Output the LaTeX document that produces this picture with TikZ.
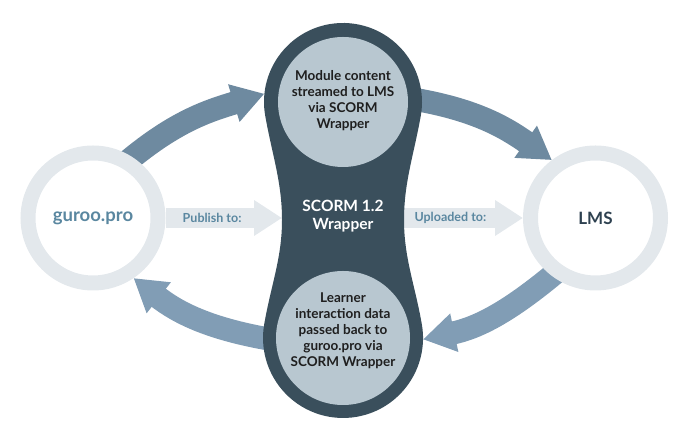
\documentclass[tikz,border=0pt]{standalone}
\usepackage{fontspec}
\setmainfont{Lato}
\usetikzlibrary{arrows.meta,backgrounds}
\definecolor{wrapdark}{HTML}{3A4F5C}
\definecolor{lobefill}{HTML}{B8C7D0}
\definecolor{ringgray}{HTML}{E3E8EC}
\definecolor{flowtop}{HTML}{6E8AA0}
\definecolor{flowbot}{HTML}{819DB5}
\definecolor{gurootext}{HTML}{5A87A0}
\definecolor{lmstext}{HTML}{2E4150}

\begin{document}
\begin{tikzpicture}[x=1pt, y=1pt,
        ring/.style={circle, draw=ringgray, line width=15pt, outer sep=7.5pt, minimum size=130pt, font=\fontsize{17}{19}\selectfont\bfseries},
        lobe/.style={circle, fill=lobefill, inner sep=0pt},
        lobetext/.style={align=center, font=\fontsize{13.5}{16}\selectfont\bfseries, text=black!88},
        flow/.style={line width=23pt, -{Triangle[length=32pt, width=37pt]}},
        push/.style={ringgray, line width=20pt, -{Triangle[length=28pt, width=34pt]}},
        pushtext/.style={font=\fontsize{12.5}{14}\selectfont\bfseries, text=gurootext}]

        \useasboundingbox (0,0) rectangle (688,427);

        % End points
        \node[ring, text=gurootext, font=\fontsize{18.5}{20}\selectfont\bfseries] (guroo) at (93,209) {guroo.pro};
        \node[ring, text=lmstext] (lms) at (595.5,209) {LMS};

        % Wrapper body
        \fill[wrapdark] (265.2,311.3) arc[start angle=190, end angle=-10, radius=79]
            .. controls (413.8,271.9) and (404,245) .. (404,207)
            .. controls (404,169) and (414.9,142.3) .. (421.8,102.9)
            arc[start angle=10, end angle=-190, radius=80]
            .. controls (271.1,142.3) and (282,169) .. (282,207)
            .. controls (282,245) and (272.2,271.9) .. (265.2,311.3) -- cycle;
        \coordinate (waistL) at (282,209);
        \coordinate (waistR) at (404,209);

        % Lobes
        \node[lobe, minimum size=130pt, outer sep=14pt] (stream) at (343,325) {};
        \node[lobe, minimum size=134pt, outer sep=13pt] (learner) at (343,89) {};
        \node[lobetext] (streamtxt) at ([yshift=1pt]stream.center) {Module content\\streamed to LMS\\via SCORM\\Wrapper};
        \node[lobetext] (learnertxt) at ([yshift=7pt]learner.center) {Learner\\interaction data\\passed back to\\guroo.pro via\\SCORM Wrapper};
        \node[align=center, text=white, font=\fontsize{15.5}{17.5}\selectfont\bfseries] (wrapper) at (343,211) {SCORM 1.2\\Wrapper};

        \begin{pgfonlayer}{background}
            % Straight arrows
            \draw[push] (guroo.east) -- (waistL) node[pos=0.4, pushtext] {Publish to:};
            \draw[push, shorten <=-6pt] (waistR) -- (lms.west) node[pos=0.39, pushtext] {Uploaded to:};

            % Curved arrows
            \draw[flow, flowtop, shorten <=-8pt] (guroo.57) to[out=40, in=197] (stream.174);
            \draw[flow, flowtop, shorten <=-6pt] (stream.1) to[out=-10, in=145] (lms.127);
            \draw[flow, flowbot, shorten <=-8pt] (lms.233) to[out=220, in=12] (learner.-1);
            \draw[flow, flowbot, shorten <=-6pt] (learner.180) to[out=170, in=-38] (guroo.-56);
        \end{pgfonlayer}
    \end{tikzpicture}
\end{document}
